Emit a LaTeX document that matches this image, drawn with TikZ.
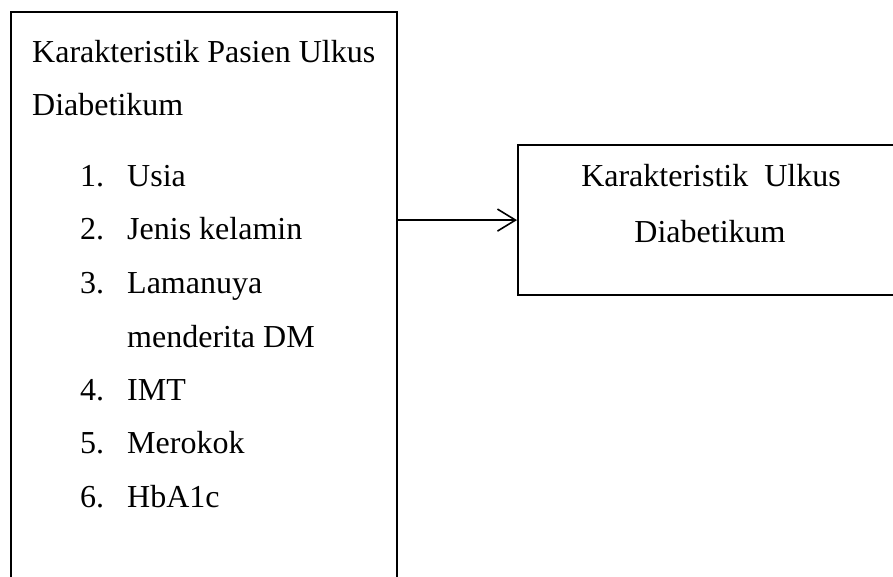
\documentclass[tikz,border=0pt]{standalone}
\usepackage{fontspec}
\setmainfont{Liberation Serif}
\usetikzlibrary{arrows.meta}
\tikzset{
  kotak/.style={draw, line width=2.2pt, anchor=north west, inner sep=0pt},
  baris/.style={anchor=base west, inner sep=0pt},
  tengah/.style={anchor=base, inner sep=0pt},
  panah/.style={line width=1.6pt, -{Straight Barb[length=18pt,width=22pt,line width=1.6pt]}}
}
\begin{document}
\begin{tikzpicture}[x=1pt,y=-1pt,font=\fontsize{32}{40}\selectfont]
\useasboundingbox (0,0) rectangle (893,577);
\clip (0,0) rectangle (893,577);

\node[kotak, minimum width=386pt, minimum height=640pt] (pasien) at (10,11) {};
\node[kotak, minimum width=420pt, minimum height=150pt] (ulkus) at (517,144) {};

\node[baris] (judul1) at (32,63) {Karakteristik Pasien Ulkus};
\node[baris] (judul2) at (32,116) {Diabetikum};

\node[baris] (no1) at (80,187) {1.};
\node[baris] (no2) at (80,240) {2.};
\node[baris] (no3) at (80,293) {3.};
\node[baris] (no4) at (80,400) {4.};
\node[baris] (no5) at (80,453) {5.};
\node[baris] (no6) at (80,507) {6.};

\node[baris] (usia) at (127,187) {Usia};
\node[baris] (jenis) at (127,240) {Jenis kelamin};
\node[baris] (lama) at (127,293) {Lamanuya};
\node[baris] (lama2) at (127,347) {menderita DM};
\node[baris] (imt) at (127,400) {IMT};
\node[baris] (rokok) at (127,453) {Merokok};
\node[baris] (hba) at (127,507) {HbA1c};

\node[tengah] (ulkus1) at (711,187) {Karakteristik~ Ulkus};
\node[tengah] (ulkus2) at (710,242) {Diabetikum};

\draw[panah] (pasien.east |- ulkus.west) -- (ulkus.west);
\end{tikzpicture}
\end{document}
